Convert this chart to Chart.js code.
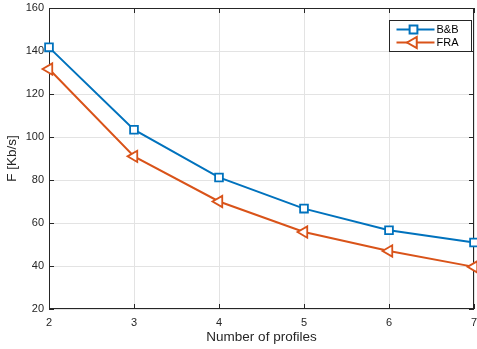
<!DOCTYPE html>
<html lang="en">
<head>
<meta charset="UTF-8" />
<title>F vs number of profiles</title>
<script src="https://cdn.jsdelivr.net/npm/chart.js"></script>
<style>
body { margin: 0; background: #fff; }
.wrap { width: 477px; height: 349px; }
</style>
</head>
<body>
<div class="wrap"><canvas id="fChart" width="477" height="349"></canvas></div>
<script>
// data
const profiles = [2, 3, 4, 5, 6, 7];
const bbValues = [141.7, 103.4, 81.2, 66.7, 56.6, 50.9];
const fraValues = [131.6, 91.0, 70.0, 55.8, 47.0, 39.6];
const yTicks = [20, 40, 60, 80, 100, 120, 140, 160];

const axisColor = '#262626';
const font = 'Liberation Sans, Arial, sans-serif';

// MATLAB style frame, inward ticks and boxed legend
const matlabAxes = {
  id: 'matlabAxes',
  beforeDatasetsDraw(chart) {
    const { ctx, chartArea: a, scales } = chart;
    ctx.save();
    ctx.strokeStyle = axisColor;
    ctx.lineWidth = 1;
    ctx.strokeRect(a.left + 0.5, a.top + 0.5, a.right - a.left - 1, a.bottom - a.top - 1);
    ctx.beginPath();
    profiles.forEach(v => {
      const x = Math.round(scales.x.getPixelForValue(v)) + 0.5;
      ctx.moveTo(x, a.bottom); ctx.lineTo(x, a.bottom - 5);
      ctx.moveTo(x, a.top); ctx.lineTo(x, a.top + 5);
    });
    yTicks.forEach(v => {
      const y = Math.round(scales.y.getPixelForValue(v)) + 0.5;
      ctx.moveTo(a.left, y); ctx.lineTo(a.left + 5, y);
      ctx.moveTo(a.right, y); ctx.lineTo(a.right - 5, y);
    });
    ctx.stroke();
    ctx.restore();
  },
  afterDatasetsDraw(chart) {
    const { ctx } = chart;
    const bx = 389.5, by = 20.5, bw = 82, bh = 31;
    ctx.save();
    ctx.fillStyle = '#fff';
    ctx.fillRect(bx, by, bw, bh);
    ctx.strokeStyle = axisColor;
    ctx.lineWidth = 1;
    ctx.strokeRect(bx, by, bw, bh);
    chart.data.datasets.forEach((ds, i) => {
      const y = by + 9 + i * 13;
      ctx.strokeStyle = ds.borderColor;
      ctx.lineWidth = 2;
      ctx.beginPath();
      ctx.moveTo(bx + 7, y); ctx.lineTo(bx + 45, y);
      ctx.stroke();
      ctx.fillStyle = '#fff';
      Chart.helpers.drawPoint(ctx, {
        pointStyle: ds.pointStyle, rotation: ds.pointRotation || 0,
        radius: ds.pointRadius, borderWidth: ds.pointBorderWidth
      }, bx + 24, y);
      ctx.fillStyle = '#000';
      ctx.font = '11px ' + font;
      ctx.textBaseline = 'middle';
      ctx.fillText(ds.label, bx + 47, y + 0.5);
    });
    ctx.restore();
  }
};

new Chart(document.getElementById('fChart'), {
  type: 'line',
  data: {
    datasets: [
      {
        label: 'B&B',
        data: profiles.map((p, i) => ({ x: p, y: bbValues[i] })),
        borderColor: '#0072BD',
        backgroundColor: '#fff',
        borderWidth: 2,
        pointStyle: 'rect',
        pointRadius: 5.5,
        pointBorderWidth: 1.8,
        clip: false
      },
      {
        label: 'FRA',
        data: profiles.map((p, i) => ({ x: p, y: fraValues[i] })),
        borderColor: '#D95319',
        backgroundColor: '#fff',
        borderWidth: 2,
        pointStyle: 'triangle',
        pointRotation: -90,
        pointRadius: 6.5,
        pointBorderWidth: 1.8,
        clip: false
      }
    ]
  },
  options: {
    responsive: false,
    animation: false,
    layout: { autoPadding: false, padding: { top: 8, right: 3, left: 0, bottom: 0 } },
    plugins: { legend: { display: false }, tooltip: { enabled: false } },
    scales: {
      x: {
        type: 'linear', min: 2, max: 7,
        afterFit(s) { s.height = 40; s.paddingLeft = 0; s.paddingRight = 0; },
        afterBuildTicks(s) { s.ticks = profiles.map(v => ({ value: v })); },
        grid: { color: '#e3e3e3', drawTicks: false },
        border: { display: false },
        ticks: { color: axisColor, padding: 7, font: { family: font, size: 11 }, maxRotation: 0 },
        title: { display: true, text: 'Number of profiles', color: axisColor, padding: { top: 1 }, font: { family: font, size: 13.5 } }
      },
      y: {
        min: 20, max: 160,
        afterFit(s) { s.width = 49; s.paddingTop = 0; s.paddingBottom = 0; },
        afterBuildTicks(s) { s.ticks = yTicks.map(v => ({ value: v })); },
        grid: { color: '#e3e3e3', drawTicks: false },
        border: { display: false },
        ticks: { color: axisColor, padding: 5, font: { family: font, size: 11 } },
        title: { display: true, text: 'F [Kb/s]', color: axisColor, padding: { bottom: 2 }, font: { family: font, size: 13.5 } }
      }
    }
  },
  plugins: [matlabAxes]
});
</script>
</body>
</html>
